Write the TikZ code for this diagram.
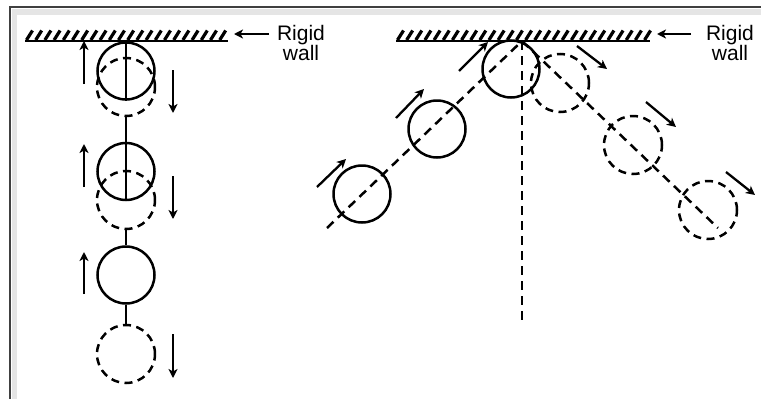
\documentclass[tikz,border=0pt]{standalone}
\usepackage{fontspec}
\setmainfont{Liberation Sans}
\usetikzlibrary{arrows.meta}
\begin{document}
\begin{tikzpicture}[x=1pt,y=-1pt,
  ball/.style={circle,draw,line width=2.5pt,minimum size=57pt,inner sep=0pt},
  ghost/.style={circle,draw,line width=2.5pt,minimum size=58pt,inner sep=0pt,dash pattern=on 8pt off 5.5pt},
  path/.style={line width=2.5pt,dash pattern=on 9pt off 6pt},
  rod/.style={line width=2.5pt},
  motion/.style={line width=2.3pt,-{Stealth[length=9pt,width=9pt,inset=2.5pt]}},
  wallline/.style={line width=2.5pt},
  hatchmark/.style={line width=3.2pt},
  lbl/.style={align=center,font=\fontsize{21}{19}\selectfont,inner sep=0pt}]
\useasboundingbox (0,0) rectangle (761,399);
% frame
\fill[gray!20] (12,9) rectangle (761,15);
\fill[gray!20] (12,9) rectangle (17,399);
\draw[line width=2pt,black!75] (761,7) -- (9.5,7) -- (9.5,399);

% ---------- left wall ----------
\coordinate (lw1) at (25,41);
\coordinate (lw2) at (228,41);
\draw[wallline] (lw1) -- (lw2);
\foreach \i in {0,...,21} {
  \draw[hatchmark] ({26.5+\i*9.2},40) -- ({32.5+\i*9.2},30.5);
}
\node[lbl] (ltext) at (301,43) {Rigid\\wall};
\coordinate (lat) at (234,34);
\draw[motion] (269,34) -- (lat);

% ---------- left column ----------
\node[ball] (s1) at (126,71) {};
\node[ghost] (d1) at (126,87) {};
\node[ball] (s2) at (126,171.5) {};
\node[ghost] (d2) at (126,200) {};
\node[ball] (s3) at (126,275) {};
\node[ghost] (d3) at (126,354) {};
\coordinate (ltop) at (126,41);
\draw[rod] (ltop) -- (s1.south);
\draw[rod] (d1.south) -- (s2.north);
\draw[rod] (s2.north) -- (s2.south);
\draw[rod] (d2.south) -- (s3.north);
\draw[rod] (s3.south) -- (d3.north);

\draw[motion] (84,84) -- (84,41);
\draw[motion] (84,187) -- (84,144);
\draw[motion] (84,294) -- (84,252);
\draw[motion] (173,70) -- (173,113);
\draw[motion] (173,176) -- (173,219);
\draw[motion] (173,334) -- (173,378);

% ---------- right wall ----------
\coordinate (rw1) at (396,41);
\coordinate (rw2) at (650,41);
\draw[wallline] (rw1) -- (rw2);
\foreach \i in {0,...,27} {
  \draw[hatchmark] ({397.5+\i*9.15},40) -- ({403.5+\i*9.15},30.5);
}
\node[lbl] (rtext) at (730,43) {Rigid\\wall};
\coordinate (rat) at (657,34);
\draw[motion] (691,34) -- (rat);

% ---------- oblique impact ----------
\coordinate (cp) at (522,41);
\coordinate (pin) at (327,228);
\coordinate (pout) at (718,228);
\coordinate (pnorm) at (522,322);
\draw[path] (pin) -- (cp);
\draw[path] (cp) -- (pout);
\draw[path] (cp) -- (pnorm);

\node[ball] (a) at (362,194) {};
\node[ball] (b) at (437,129) {};
\node[ball] (c) at (511,69) {};
\node[ghost] (d) at (560,83) {};
\node[ghost] (e) at (633,145) {};
\node[ghost] (f) at (708,210) {};

\draw[motion] (317,187) -- (346,159);
\draw[motion] (396,118) -- (424,89);
\draw[motion] (459,71) -- (488,42);
\draw[motion] (577,46) -- (607,69);
\draw[motion] (646,102) -- (676,127);
\draw[motion] (726,172) -- (755,195);
\end{tikzpicture}
\end{document}
